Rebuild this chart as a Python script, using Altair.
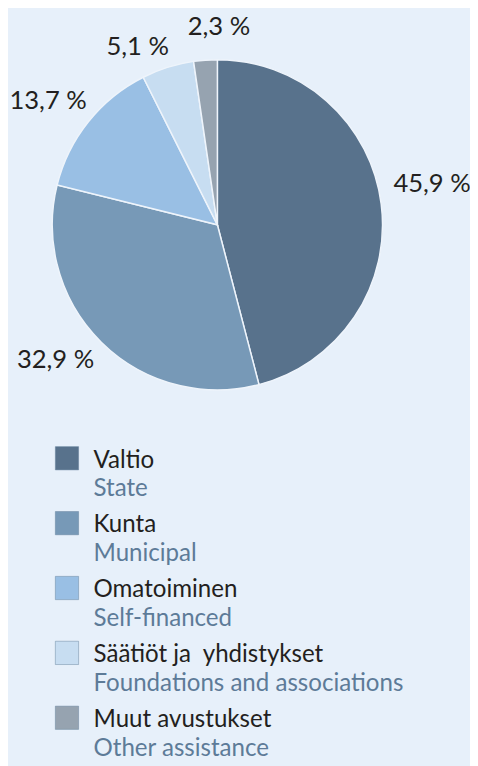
import altair as alt
import pandas as pd

categories = ["Valtio", "Kunta", "Omatoiminen", "Säätiöt ja\u00a0\u00a0yhdistykset", "Muut avustukset"]
subtitles = ["State", "Municipal", "Self-financed", "Foundations and associations", "Other assistance"]
shares = [45.9, 32.9, 13.7, 5.1, 2.3]
labels = ["45,9 %", "32,9 %", "13,7 %", "5,1 %", "2,3 %"]
colors = ["#58728c", "#7799b7", "#99bfe4", "#c7ddf1", "#96a3b0"]

df = pd.DataFrame({
    "cat": categories,
    "sub": subtitles,
    "value": shares,
    "label": labels,
    "idx": list(range(len(categories))),
})

BG = "#e7f0fa"
FONT = "Lato"
CX, CY, R = 213, 214, 168

color = alt.Color("cat:N", scale=alt.Scale(domain=categories, range=colors), legend=None)
theta = alt.Theta("value:Q", stack=True)
order = alt.Order("idx:Q")

base = alt.Chart(df)

pie = base.mark_arc(radius=R, stroke="#eef4fb", strokeWidth=1.5).encode(
    theta=theta, color=color, order=order,
    x=alt.value(CX), y=alt.value(CY),
)

# label placement nudges (style only), one per slice in slice order
nudges = [(20, -16), (-24, -5), (-16, -1), (-21, 10), (16, -2)]
label_layers = []
for i, (ddx, ddy) in enumerate(nudges):
    label_layers.append(
        base.mark_text(radius=200, fontSize=26, font=FONT, color="#231f20",
                       dx=ddx, dy=ddy, baseline="middle").encode(
            theta=theta, order=order, text="label:N",
            x=alt.value(CX), y=alt.value(CY),
            opacity=alt.condition(f"datum.idx == {i}", alt.value(1), alt.value(0)),
        )
    )

ypos = alt.Y("idx:O", axis=None,
             scale=alt.Scale(type="point", range=[451.5, 715.5], padding=0))

swatches = base.mark_square(size=560, opacity=1, stroke="#5f7d99", strokeOpacity=0.45,
                            strokeWidth=1).encode(
    x=alt.value(60), y=ypos, color=color,
)

main_txt = base.mark_text(align="left", baseline="alphabetic", dy=9.5, fontSize=24.5,
                          font=FONT, color="#231f20").encode(
    x=alt.value(87), y=ypos, text="cat:N",
)

sub_txt = base.mark_text(align="left", baseline="alphabetic", dy=38.5, fontSize=24.5,
                         font=FONT, color="#5d7b98").encode(
    x=alt.value(87), y=ypos, text="sub:N",
)

chart = alt.layer(pie, *label_layers, swatches, main_txt, sub_txt).properties(
    width=470, height=758, padding=0, background=BG,
    autosize=alt.AutoSizeParams(type="none"),
).configure_view(stroke=None)

chart.save("out.html", embed_options={"renderer": "svg", "actions": False})
